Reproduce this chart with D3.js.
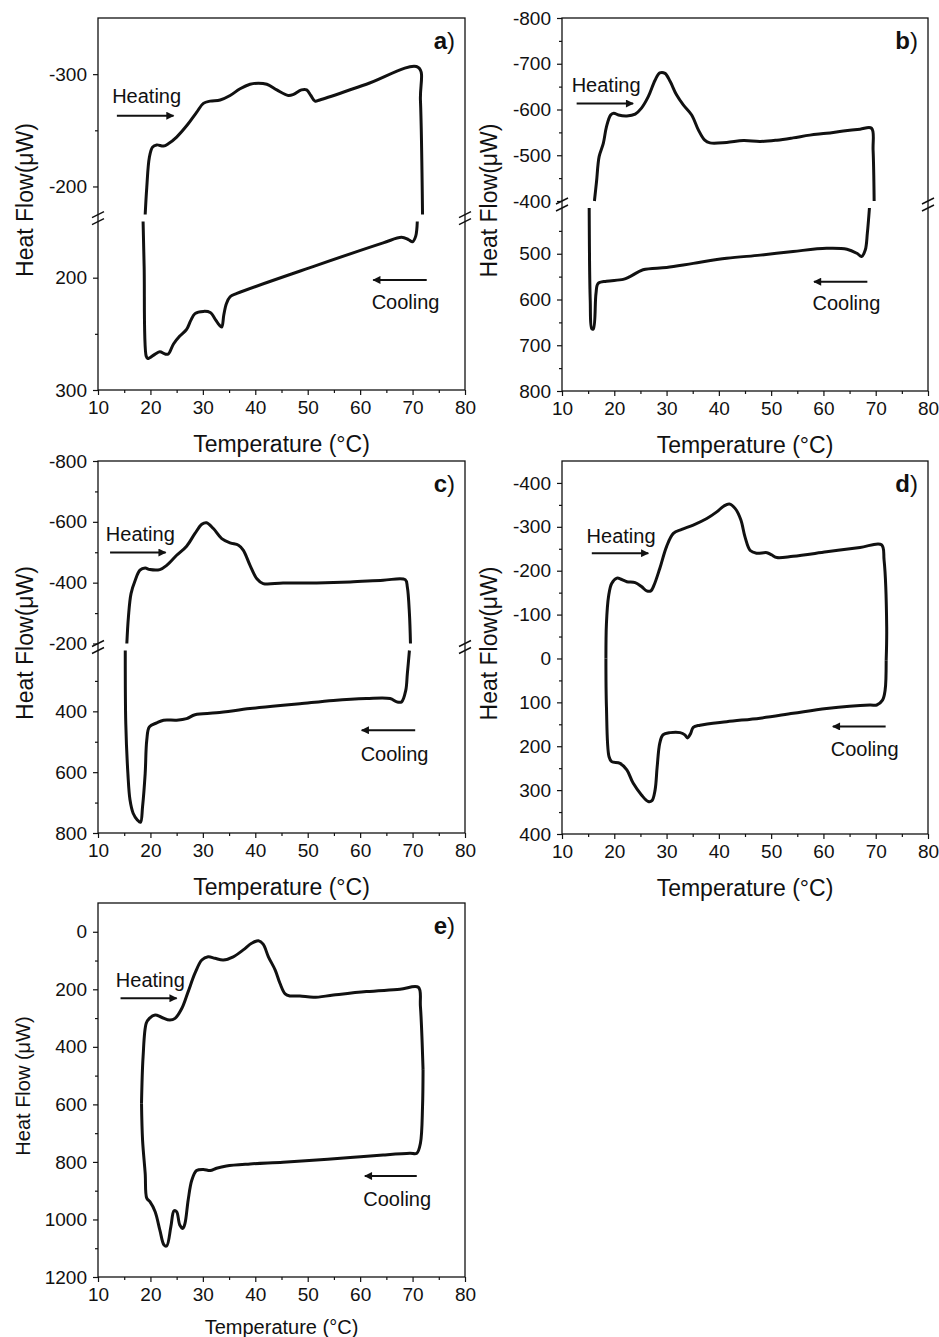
<!DOCTYPE html>
<html>
<head>
<meta charset="utf-8">
<script src="https://cdn.jsdelivr.net/npm/d3@7"></script>
<style>
body { margin: 0; background: #fff; }
svg { display: block; font-family: "Liberation Sans", Arial, sans-serif; }
</style>
</head>
<body>
<svg id="fig" width="939" height="1337"></svg>
<script>
// temperature axis, shared by all panels (°C)
const tempTicks = [10, 20, 30, 40, 50, 60, 70, 80];
const tempMinor = [15, 25, 35, 45, 55, 65, 75];

// [temperature, heat flow]
const heatA = [[19.0,-175],[19.3,-199],[19.8,-226],[20.4,-235],[21.2,-237],[22.5,-236],[23.4,-238],[25.0,-244],[26.9,-254],[28.8,-266],[30.1,-274],[31.4,-276],[33.3,-277],[35.2,-281],[37.1,-287],[39.0,-291],[40.6,-292],[42.2,-291],[44.1,-286],[46.3,-281],[47.3,-282],[48.8,-286],[49.8,-286],[50.6,-281],[51.4,-276],[52.3,-277],[61.2,-291],[71.1,-306],[71.5,-277],[71.9,-175]];
const coolA = [[70.9,150],[70.6,163],[70.0,168],[69.2,166],[67.9,164],[64.4,169],[51.7,189],[36.5,214],[35.2,217],[34.5,223],[34.0,233],[33.6,244],[33.1,242],[32.5,238],[31.4,231],[30.1,230],[28.5,232],[27.7,238],[26.9,246],[25.6,252],[24.4,259],[23.4,268],[22.8,268],[21.8,266],[20.9,268],[19.5,272],[19.2,270],[18.8,190],[18.6,150]];

const heatB = [[16.2,-400],[16.6,-442],[17.1,-497],[17.9,-526],[18.5,-562],[19.3,-588],[19.9,-592],[20.8,-588],[22.4,-586],[24.0,-590],[25.2,-603],[26.5,-628],[27.8,-664],[28.7,-680],[29.7,-679],[30.7,-661],[31.9,-632],[33.2,-610],[34.8,-588],[36.1,-555],[37.3,-533],[38.3,-527],[41.5,-528],[44.7,-532],[47.9,-530],[51.1,-533],[54.2,-538],[57.4,-544],[60.6,-548],[63.8,-553],[67.0,-557],[69.2,-559],[69.5,-511],[69.7,-400]];
const coolB = [[68.8,400],[68.4,455],[68.0,492],[67.3,506],[66.4,499],[64.5,490],[60.6,488],[54.2,495],[47.9,503],[41.5,510],[35.1,521],[30.0,530],[25.5,535],[23.0,550],[21.7,556],[18.5,560],[16.9,565],[16.5,587],[16.0,664],[15.7,664],[15.4,602],[15.2,400]];

const heatC = [[15.5,-200],[15.8,-287],[16.3,-364],[17.1,-408],[18.0,-441],[19.0,-448],[19.9,-443],[21.8,-443],[23.1,-457],[25.0,-490],[26.9,-520],[28.5,-562],[29.8,-592],[30.7,-597],[32.0,-578],[33.6,-545],[35.2,-531],[36.8,-523],[37.7,-507],[39.0,-457],[40.3,-413],[41.5,-397],[45.3,-399],[51.7,-399],[58.1,-402],[64.4,-408],[68.6,-410],[69.0,-386],[69.4,-298],[69.6,-200]];
const coolC = [[69.4,200],[69.0,277],[68.7,331],[67.9,369],[67.0,369],[65.7,358],[61.2,358],[54.9,364],[48.5,375],[45.3,380],[39.0,391],[32.6,405],[28.5,411],[26.9,424],[25.0,429],[22.5,429],[21.2,438],[19.8,451],[19.3,495],[19.0,604],[18.5,713],[18.1,765],[17.5,757],[16.7,735],[16.1,691],[15.7,604],[15.3,440],[15.2,200]];

const heatD = [[18.4,0],[18.5,-80],[18.9,-141],[19.5,-171],[20.5,-183],[21.4,-180],[22.4,-175],[24.0,-173],[25.2,-164],[26.2,-154],[27.0,-154],[27.6,-167],[28.7,-205],[30.0,-255],[31.3,-285],[32.9,-294],[35.1,-304],[37.7,-319],[39.6,-334],[40.9,-347],[42.0,-352],[43.1,-342],[44.2,-316],[45.0,-277],[46.0,-246],[47.2,-240],[49.2,-241],[50.1,-236],[51.1,-230],[54.2,-233],[60.6,-243],[67.0,-253],[71.1,-259],[71.6,-224],[72.1,-72],[72.0,4]];
const coolD = [[72.0,4],[71.8,72],[71.3,95],[70.2,106],[68.9,106],[60.6,114],[54.2,125],[47.9,136],[41.5,144],[36.4,152],[35.1,157],[34.6,171],[34.0,181],[33.5,174],[32.6,169],[30.7,169],[29.3,174],[28.7,193],[28.2,247],[27.8,300],[27.2,324],[26.5,326],[25.2,311],[23.6,284],[22.4,254],[21.1,239],[19.5,235],[19.0,224],[18.5,110],[18.4,0]];

const heatE = [[18.3,596],[18.6,434],[19.2,318],[19.8,301],[20.9,289],[22.1,297],[23.7,307],[24.7,301],[26.0,266],[27.2,208],[28.5,144],[29.8,98],[31.0,87],[32.3,92],[33.9,98],[35.8,87],[37.7,63],[39.3,40],[40.6,31],[41.5,43],[42.5,87],[43.8,133],[44.7,179],[45.7,216],[46.6,223],[48.5,223],[51.1,228],[54.9,220],[61.2,208],[67.6,200],[71.1,193],[71.5,260],[72.0,480]];
const coolE = [[72.0,480],[71.9,608],[71.5,735],[70.8,770],[69.5,770],[64.4,776],[58.1,785],[51.7,793],[45.3,801],[39.0,807],[34.5,814],[32.6,822],[31.4,830],[30.1,826],[28.8,830],[27.9,863],[27.2,932],[26.6,1013],[26.2,1031],[25.6,1019],[25.0,973],[24.5,970],[23.9,1025],[23.1,1092],[22.6,1089],[21.8,1037],[20.9,973],[19.9,938],[19.3,926],[19.0,840],[18.5,724],[18.3,596]];

// heat-flow axis pieces (top piece first), with labelled and minor ticks
const axisA = [{ dom: [-350, -175], ticks: [-300, -200], minor: [-250] },
               { dom: [150, 300], ticks: [200, 300], minor: [250] }];
const axisB = [{ dom: [-800, -400], ticks: [-800, -700, -600, -500, -400], minor: [-750, -650, -550, -450] },
               { dom: [400, 800], ticks: [500, 600, 700, 800], minor: [450, 550, 650, 750] }];
const axisC = [{ dom: [-800, -200], ticks: [-800, -600, -400, -200], minor: [-700, -500, -300] },
               { dom: [200, 800], ticks: [400, 600, 800], minor: [300, 500, 700] }];
const axisD = [{ dom: [-450, 400], ticks: [-400, -300, -200, -100, 0, 100, 200, 300, 400], minor: [-350, -250, -150, -50, 50, 150, 250, 350] }];
const axisE = [{ dom: [-100, 1200], ticks: [0, 200, 400, 600, 800, 1000, 1200], minor: [100, 300, 500, 700, 900, 1100] }];

// arrow annotations in data units: text start, arrow from -> to
const notesA = { heat: { text: [12.7, -274], from: [13.6, -263], to: [24.4, -263] }, cool: { text: [62.2, 228], from: [72.7, 202], to: [62.5, 202] } };
const notesB = { heat: { text: [11.85, -639], from: [12.8, -613], to: [23.6, -613] }, cool: { text: [57.9, 623], from: [68.4, 561], to: [58.2, 561] } };
const notesC = { heat: { text: [11.5, -536], from: [12.3, -499], to: [22.9, -499] }, cool: { text: [60.1, 562], from: [70.5, 462], to: [60.3, 462] } };
const notesD = { heat: { text: [14.7, -264], from: [15.7, -240], to: [26.5, -240] }, cool: { text: [61.4, 222], from: [71.9, 155], to: [61.8, 155] } };
const notesE = { heat: { text: [13.4, 192], from: [14.3, 231], to: [25.0, 231] }, cool: { text: [60.6, 953], from: [70.8, 849], to: [60.9, 849] } };

const panels = [
	{ id: 'a', heat: heatA, cool: coolA, axis: axisA, notes: notesA, box: { x: 98, y: 18, w: 367, h: 372 }, ylab: 'Heat Flow(μW)', big: true },
	{ id: 'b', heat: heatB, cool: coolB, axis: axisB, notes: notesB, box: { x: 562, y: 18, w: 366, h: 373 }, ylab: 'Heat Flow(μW)', big: true },
	{ id: 'c', heat: heatC, cool: coolC, axis: axisC, notes: notesC, box: { x: 98, y: 461, w: 367, h: 372 }, ylab: 'Heat Flow(μW)', big: true },
	{ id: 'd', heat: heatD, cool: coolD, axis: axisD, notes: notesD, box: { x: 562, y: 461, w: 366, h: 373 }, ylab: 'Heat Flow(μW)', big: true },
	{ id: 'e', heat: heatE, cool: coolE, axis: axisE, notes: notesE, box: { x: 98, y: 903, w: 367, h: 374 }, ylab: 'Heat Flow (μW)', big: false },
];

const svg = d3.select('#fig');
const ink = '#111';
const gap = 7;

svg.append('defs').append('marker')
	.attr('id', 'ah')
	.attr('viewBox', '0 0 10 10')
	.attr('refX', 9)
	.attr('refY', 5)
	.attr('markerUnits', 'userSpaceOnUse')
	.attr('markerWidth', 10)
	.attr('markerHeight', 8)
	.attr('orient', 'auto')
	.append('path')
	.attr('d', 'M0,0 L10,5 L0,10 Z')
	.attr('fill', ink);

function styleAxis(g) {
	g.select('.domain').remove();
	g.selectAll('line').attr('stroke', ink).attr('stroke-width', 1.2);
	g.selectAll('text').attr('fill', ink).attr('font-size', 19).attr('font-family', null);
}

panels.forEach(p => {
	const b = p.box;
	const g = svg.append('g');

	const x = d3.scaleLinear().domain([10, 80]).range([b.x, b.x + b.w]);

	// split the height between the axis pieces, same µW per pixel in each
	const span = d3.sum(p.axis, s => s.dom[1] - s.dom[0]);
	const k = (b.h - gap * (p.axis.length - 1)) / span;
	let top = b.y;
	const ys = p.axis.map(s => {
		const h = (s.dom[1] - s.dom[0]) * k;
		const sc = d3.scaleLinear().domain(s.dom).range([top, top + h]);
		top += h + gap;
		return sc;
	});

	g.append('rect')
		.attr('x', b.x).attr('y', b.y)
		.attr('width', b.w).attr('height', b.h)
		.attr('fill', 'none')
		.attr('stroke', ink)
		.attr('stroke-width', 1.3);

	g.append('g')
		.attr('transform', `translate(0,${b.y + b.h})`)
		.call(d3.axisBottom(x).tickValues(tempTicks).tickSize(5).tickPadding(6).tickFormat(d => String(d)))
		.call(styleAxis);
	g.append('g')
		.attr('transform', `translate(0,${b.y + b.h})`)
		.call(d3.axisBottom(x).tickValues(tempMinor).tickSize(3).tickFormat(''))
		.call(styleAxis);

	p.axis.forEach((s, i) => {
		g.append('g')
			.attr('transform', `translate(${b.x},0)`)
			.call(d3.axisLeft(ys[i]).tickValues(s.ticks).tickSize(5).tickPadding(6).tickFormat(d => String(d)))
			.call(styleAxis);
		g.append('g')
			.attr('transform', `translate(${b.x},0)`)
			.call(d3.axisLeft(ys[i]).tickValues(s.minor).tickSize(3).tickFormat(''))
			.call(styleAxis);
	});

	// break marks on both sides
	for (let i = 0; i < ys.length - 1; i++) {
		const yb = [ys[i].range()[1], ys[i + 1].range()[0]];
		[b.x, b.x + b.w].forEach(xx => {
			yb.forEach(yy => {
				g.append('line')
					.attr('x1', xx - 6).attr('y1', yy + 3)
					.attr('x2', xx + 6).attr('y2', yy - 3)
					.attr('stroke', ink)
					.attr('stroke-width', 1.4);
			});
		});
	}

	const yHeat = ys[0];
	const yCool = ys[ys.length - 1];
	const line = sc => d3.line()
		.x(d => x(d[0]))
		.y(d => sc(d[1]))
		.curve(d3.curveCatmullRom.alpha(0.5));

	g.append('path')
		.attr('d', line(yHeat)(p.heat))
		.attr('fill', 'none')
		.attr('stroke', ink)
		.attr('stroke-width', 3)
		.attr('stroke-linejoin', 'round')
		.attr('stroke-linecap', 'butt');
	g.append('path')
		.attr('d', line(yCool)(p.cool))
		.attr('fill', 'none')
		.attr('stroke', ink)
		.attr('stroke-width', 3)
		.attr('stroke-linejoin', 'round')
		.attr('stroke-linecap', 'butt');

	// heating / cooling arrows
	[['heat', yHeat, 'Heating'], ['cool', yCool, 'Cooling']].forEach(([key, sc, label]) => {
		const n = p.notes[key];
		g.append('line')
			.attr('x1', x(n.from[0])).attr('y1', sc(n.from[1]))
			.attr('x2', x(n.to[0])).attr('y2', sc(n.to[1]))
			.attr('stroke', ink)
			.attr('stroke-width', 2)
			.attr('marker-end', 'url(#ah)');
		g.append('text')
			.attr('x', x(n.text[0])).attr('y', sc(n.text[1]))
			.attr('font-size', 20)
			.attr('fill', ink)
			.text(label);
	});

	// panel letter
	const tag = g.append('text')
		.attr('x', b.x + b.w - 10)
		.attr('y', b.y + 31)
		.attr('text-anchor', 'end')
		.attr('font-size', 24)
		.attr('fill', ink);
	tag.append('tspan').attr('font-weight', 'bold').text(p.id);
	tag.append('tspan').text(')');

	// axis titles
	const fs = p.big ? 23 : 20;
	g.append('text')
		.attr('x', b.x + b.w / 2)
		.attr('y', b.y + b.h + (p.big ? 62 : 57))
		.attr('text-anchor', 'middle')
		.attr('font-size', fs)
		.attr('fill', ink)
		.text('Temperature (°C)');
	g.append('text')
		.attr('transform', `translate(${b.x - (p.big ? 65 : 68)},${b.y + b.h / 2 - 4}) rotate(-90)`)
		.attr('text-anchor', 'middle')
		.attr('font-size', fs)
		.attr('fill', ink)
		.text(p.ylab);
});
</script>
</body>
</html>
